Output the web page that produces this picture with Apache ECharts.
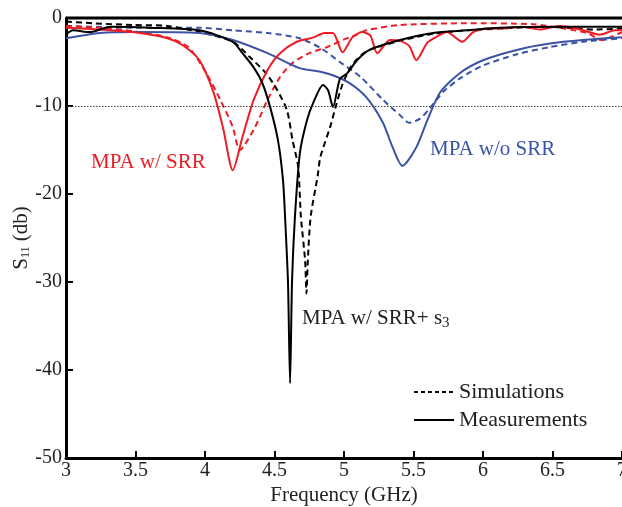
<!DOCTYPE html>
<html>
<head>
<meta charset="utf-8">
<script src="https://cdn.jsdelivr.net/npm/echarts@6/dist/echarts.min.js"></script>
<style>
  html, body { margin: 0; padding: 0; background: #fff; }
  #chart { width: 622px; height: 507px; }
</style>
</head>
<body>
<div id="chart"></div>
<script>
// Return loss |S11| of the patch antennas, 3–7 GHz
const FONT = '"Liberation Serif", "DejaVu Serif", serif';
const RED = '#ee1c25';
const BLUE = '#3a53a4';
const BLACK = '#000000';

// MPA w/o SRR – simulated
const simNoSrrF  = [3.00, 3.50, 3.96, 4.20, 4.45, 4.68, 4.83, 4.97, 5.12, 5.28, 5.40, 5.47, 5.55, 5.62, 5.72, 5.84, 6.00, 6.25, 6.48, 6.72, 7.00];
const simNoSrrDb = [-0.9, -1.1, -1.1, -1.4, -1.7, -2.3, -3.4, -5.0, -6.7, -9.3, -11.0, -11.9, -11.4, -10.2, -8.3, -6.8, -5.4, -4.1, -3.3, -2.7, -2.3];

// MPA w/o SRR – measured
const measNoSrrF  = [3.00, 3.12, 3.24, 3.50, 3.96, 4.20, 4.45, 4.68, 4.83, 4.92, 5.04, 5.16, 5.28, 5.35, 5.42, 5.52, 5.60, 5.69, 5.83, 6.00, 6.25, 6.48, 6.72, 7.00];
const measNoSrrDb = [-2.3, -2.0, -1.7, -1.6, -1.7, -2.5, -4.0, -5.7, -6.1, -6.5, -7.4, -9.0, -11.9, -14.7, -16.8, -14.7, -11.6, -8.5, -6.3, -4.8, -3.6, -2.9, -2.5, -2.2];

// MPA w/ SRR – simulated
const simSrrF  = [3.00, 3.24, 3.48, 3.73, 3.88, 4.01, 4.11, 4.20, 4.25, 4.35, 4.45, 4.54, 4.63, 4.75, 4.88, 4.99, 5.09, 5.16, 5.40, 5.88, 6.36, 6.58, 6.75, 6.85, 7.00];
const simSrrDb = [-0.9, -1.1, -1.5, -2.2, -3.3, -6.3, -9.3, -12.4, -15.0, -12.7, -9.3, -6.7, -5.1, -4.0, -3.3, -2.5, -1.9, -1.4, -0.8, -0.6, -0.7, -1.2, -1.7, -2.5, -1.6];

// MPA w/ SRR – measured
const measSrrF  = [3.00, 3.24, 3.48, 3.73, 3.84, 3.96, 4.06, 4.13, 4.20, 4.27, 4.35, 4.45, 4.54, 4.66, 4.78, 4.86, 4.92, 4.99, 5.06, 5.13, 5.19, 5.24, 5.33, 5.40, 5.47, 5.52, 5.60, 5.67, 5.74, 5.85, 5.93, 6.03, 6.12, 6.27, 6.41, 6.55, 6.70, 6.84, 6.95, 7.00];
const measSrrDb = [-1.1, -1.3, -1.6, -2.3, -3.1, -4.8, -8.4, -12.5, -17.3, -13.5, -9.3, -5.9, -4.0, -2.7, -2.2, -1.7, -1.7, -3.9, -2.2, -1.6, -2.0, -4.0, -2.5, -2.6, -3.2, -4.8, -2.8, -2.1, -1.6, -2.7, -1.6, -1.2, -1.2, -1.0, -1.3, -0.9, -1.3, -1.9, -1.4, -1.4];

// MPA w/ SRR + s3 – simulated
const simS3F  = [3.00, 3.20, 3.48, 3.73, 3.96, 4.20, 4.32, 4.44, 4.52, 4.59, 4.63, 4.67, 4.69, 4.72, 4.73, 4.74, 4.76, 4.81, 4.83, 4.90, 4.94, 4.99, 5.06, 5.16, 5.40, 5.64, 5.88, 6.12, 6.40, 6.60, 6.80, 7.00];
const simS3Db = [-0.4, -0.6, -0.8, -0.9, -1.6, -2.7, -4.4, -6.3, -8.2, -10.5, -13.9, -16.9, -22.6, -27.5, -31.3, -27.5, -22.6, -18.0, -15.8, -12.4, -10.1, -7.5, -5.3, -3.8, -2.6, -1.8, -1.4, -1.2, -1.0, -1.1, -1.3, -1.2];

// MPA w/ SRR + s3 – measured
const measS3F  = [3.00, 3.05, 3.17, 3.32, 3.60, 3.96, 4.20, 4.27, 4.345, 4.41, 4.468, 4.525, 4.561, 4.576, 4.597, 4.612, 4.626, 4.647, 4.683, 4.734, 4.777, 4.849, 4.885, 4.921, 4.971, 5.022, 5.094, 5.187, 5.403, 5.640, 5.885, 6.122, 6.60, 7.00];
const measS3Db = [-1.9, -1.4, -1.6, -1.0, -1.1, -1.4, -2.7, -4.0, -5.5, -7.3, -10.1, -13.9, -18.4, -22.6, -30.0, -41.5, -30.0, -22.6, -15.3, -11.6, -9.7, -7.6, -8.2, -10.1, -6.9, -6.3, -4.8, -3.6, -2.5, -1.7, -1.4, -1.1, -1.0, -1.0];

// Axis ranges and ticks
const freqTicks = [3, 3.5, 4, 4.5, 5, 5.5, 6, 6.5, 7];
const dbTicks = [0, -10, -20, -30, -40, -50];
const thresholdDb = -10;

const pairs = (xs, ys) => xs.map((x, i) => [x, ys[i]]);

function curve(name, xs, ys, color, dashed) {
  return {
    name: name,
    type: 'line',
    data: pairs(xs, ys),
    symbol: 'none',
    smooth: 0.25,
    silent: true,
    lineStyle: { color: color, width: 2, type: dashed ? [6, 4] : 'solid' },
    z: dashed ? 3 : 4
  };
}

const chart = echarts.init(document.getElementById('chart'), null, { renderer: 'canvas' });

const series = [
  curve('simNoSrr', simNoSrrF, simNoSrrDb, BLUE, true),
  curve('measNoSrr', measNoSrrF, measNoSrrDb, BLUE, false),
  curve('simSrr', simSrrF, simSrrDb, RED, true),
  curve('measSrr', measSrrF, measSrrDb, RED, false),
  curve('simS3', simS3F, simS3Db, BLACK, true),
  curve('measS3', measS3F, measS3Db, BLACK, false),
  // legend entries
  { name: 'Simulations', type: 'line', data: [], symbol: 'none',
    lineStyle: { color: BLACK, width: 1.2, type: [4, 3] }, itemStyle: { color: BLACK } },
  { name: 'Measurements', type: 'line', data: [], symbol: 'none',
    lineStyle: { color: BLACK, width: 2.4 }, itemStyle: { color: BLACK } }
];

// -10 dB reference line
series[0].markLine = {
  silent: true,
  symbol: 'none',
  label: { show: false },
  lineStyle: { color: '#444', width: 1, type: [1.5, 1.5] },
  data: [{ yAxis: thresholdDb }]
};

chart.setOption({
  animation: false,
  backgroundColor: '#fff',
  grid: { left: 66, top: 18, right: 0, bottom: 49, containLabel: false, outerBoundsMode: 'none' },
  legend: {
    data: ['Simulations', 'Measurements'],
    orient: 'vertical',
    left: 408,
    top: 376,
    itemWidth: 40,
    itemHeight: 14,
    itemGap: 6,
    itemStyle: { opacity: 0, borderWidth: 0 },
    textStyle: { fontFamily: FONT, fontSize: 22, color: '#222' },
    selectedMode: false
  },
  xAxis: {
    type: 'value',
    min: freqTicks[0],
    max: freqTicks[freqTicks.length - 1],
    interval: 0.5,
    name: 'Frequency (GHz)',
    nameLocation: 'middle',
    nameGap: 27,
    nameMoveOverlap: false,
    nameTextStyle: { fontFamily: FONT, fontSize: 21, color: '#222' },
    axisLine: { show: true, onZero: false, lineStyle: { color: '#000', width: 3 } },
    axisTick: { show: true, inside: true, length: 7, lineStyle: { color: '#000', width: 2 } },
    axisLabel: { fontFamily: FONT, fontSize: 20, color: '#222', margin: 3, showMaxLabel: true },
    splitLine: { show: false }
  },
  yAxis: {
    type: 'value',
    min: dbTicks[dbTicks.length - 1],
    max: dbTicks[0],
    interval: 10,
    name: '{s|S}{sub|11}{s| (db)}',
    nameLocation: 'middle',
    nameGap: 34,
    nameMoveOverlap: false,
    nameRotate: 90,
    nameTextStyle: {
      fontFamily: FONT, fontSize: 21, color: '#222',
      rich: {
        s: { fontFamily: FONT, fontSize: 21, color: '#222' },
        sub: { fontFamily: FONT, fontSize: 12, color: '#222', padding: [10, 0, 0, 0] }
      }
    },
    axisLine: { show: true, onZero: false, lineStyle: { color: '#000', width: 3 } },
    axisTick: { show: true, inside: true, length: 7, lineStyle: { color: '#000', width: 2 } },
    axisLabel: { fontFamily: FONT, fontSize: 20, color: '#222', margin: 4 },
    splitLine: { show: false }
  },
  graphic: [
    // top frame edge
    { type: 'line', shape: { x1: 66, y1: 18, x2: 622, y2: 18 }, style: { stroke: '#000', lineWidth: 3 }, z: 10 },
    { type: 'text', style: { text: 'MPA w/ SRR', x: 91, y: 162, textVerticalAlign: 'middle', font: '21px ' + FONT, fill: RED } },
    { type: 'text', style: { text: 'MPA w/o SRR', x: 430, y: 149, textVerticalAlign: 'middle', font: '21px ' + FONT, fill: BLUE } },
    { type: 'text', style: {
        text: '{a|MPA w/ SRR+ s}{b|3}', x: 302, y: 318, textVerticalAlign: 'middle',
        rich: {
          a: { fontFamily: FONT, fontSize: 21, fill: '#222' },
          b: { fontFamily: FONT, fontSize: 15, fill: '#222', padding: [10, 0, 0, 0] }
        }
    } }
  ],
  series: series
});
</script>
</body>
</html>
